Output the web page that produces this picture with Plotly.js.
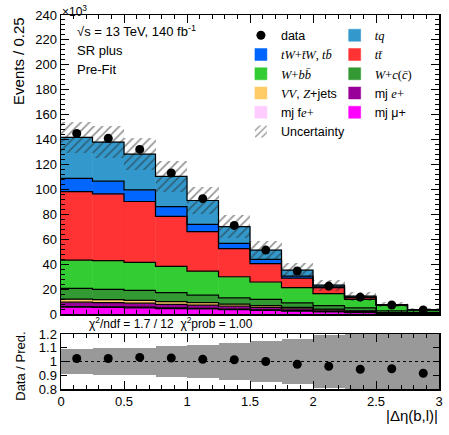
<!DOCTYPE html>
<html><head><meta charset="utf-8">
<script src="https://cdn.plot.ly/plotly-3.0.1.min.js"></script>
<style>html,body{margin:0;padding:0;background:#fff}#c{width:449px;height:435px}</style>
</head><body><div id="c"></div>
<script>
// bin centers of |Δη(b,l)| (12 bins of 0.25)
const binCenters = [0.125,0.375,0.625,0.875,1.125,1.375,1.625,1.875,2.125,2.375,2.625,2.875];
const binEdges   = [0,0.25,0.5,0.75,1.0,1.25,1.5,1.75,2.0,2.25,2.5,2.75,3.0];
// events in units of 10^3 (stacking order bottom -> top)
const mjMu  = [5.5,5.3,5.0,4.4,4.1,3.6,3.0,2.3,1.7,1.1,0.6,0.3];
const mjFe  = [0.5,0.5,0.5,0.5,0.5,0.4,0.4,0.4,0.3,0.2,0.1,0.05];
const mjE   = [3.5,3.4,3.2,2.9,2.6,2.3,2.0,1.5,1.1,0.8,0.4,0.2];
const vvZ   = [2.4,2.3,2.2,2.2,2.0,1.7,1.4,1.1,0.8,0.5,0.3,0.15];
const wc    = [8.6,8.2,8.0,7.1,5.9,5.0,4.9,3.7,2.9,2.4,1.2,0.6];
const wbb   = [22.8,23.1,22.5,21.1,19.3,16.9,14.0,12.1,9.5,6.7,4.4,2.0];
const ttbar = [55.0,53.6,48.9,40.2,31.7,22.6,14.7,7.7,4.8,1.5,0.4,0.1];
const tw    = [10.5,10.2,9.3,7.8,5.9,4.2,3.4,1.6,0.8,0.4,0.1,0.05];
const tq    = [33.0,31.4,28.7,24.2,19.1,13.5,7.5,4.8,1.3,0.7,0.1,0.05];
const dataVals = [144.9,141.0,132.1,113.2,92.6,71.1,51.3,34.5,22.4,13.5,7.2,3.2];
// relative total uncertainty of the prediction
const relUnc = [0.088,0.095,0.10,0.11,0.12,0.135,0.15,0.165,0.19,0.26,0.30,0.35];

const S = '<span style="font-family:Liberation Serif">';
const comps = [
  {y: mjMu,  name: 'mj \u03bc+', color: '#ff00ff', leg: 'legend2', rank: 10},
  {y: mjFe,  name: 'mj f'+S+'<i>e</i>+</span>', color: '#ffccff', leg: 'legend', rank: 9},
  {y: mjE,   name: 'mj '+S+'<i>e</i>+</span>', color: '#990099', leg: 'legend2', rank: 8},
  {y: vvZ,   name: S+'<i>VV</i></span>, '+S+'<i>Z</i></span>+jets', color: '#ffcc66', leg: 'legend', rank: 7},
  {y: wc,    name: S+'<i>W</i>+<i>c</i>(<i>c\u0304</i>)</span>', color: '#339933', leg: 'legend2', rank: 6},
  {y: wbb,   name: S+'<i>W</i>+<i>bb\u0304</i></span>', color: '#33cc33', leg: 'legend', rank: 5},
  {y: ttbar, name: S+'<i>tt\u0304</i></span>', color: '#ff3333', leg: 'legend2', rank: 4},
  {y: tw,    name: S+'<i>tW</i>+<i>t\u0304W</i>, <i>tb\u0304</i></span>', color: '#0066ff', leg: 'legend', rank: 3},
  {y: tq,    name: S+'<i>tq</i></span>', color: '#3399cc', leg: 'legend2', rank: 2}
];

const traces = [];
let base = binCenters.map(() => 0);
const levels = [];
comps.forEach(c => {
  traces.push({type:'bar', x: binCenters, y: c.y, base: base.slice(), width: 0.25,
    marker:{color:c.color, line:{color:c.color, width:0.5}}, name:c.name,
    legend:c.leg, legendrank:c.rank, xaxis:'x', yaxis:'y', hoverinfo:'skip'});
  base = base.map((b,i) => b + c.y[i]);
  levels.push(base.slice());
});
const total = base;
// outline steps
levels.forEach(lv => {
  traces.push({type:'scatter', mode:'lines', x: binEdges, y: lv.concat([lv[lv.length-1]]),
    line:{shape:'hv', color:'#000', width:1.2}, showlegend:false, xaxis:'x', yaxis:'y', hoverinfo:'skip'});
});
// hatched uncertainty
traces.push({type:'bar', x: binCenters, y: total.map((t,i)=>2*t*relUnc[i]),
  base: total.map((t,i)=>t*(1-relUnc[i])), width:0.25, name:'Uncertainty',
  marker:{color:'rgba(0,0,0,0)', line:{width:0},
    pattern:{shape:'/', fgcolor:'#2a2a2a', size:6, solidity:0.28, fillmode:'overlay'}},
  legend:'legend', legendrank:11, xaxis:'x', yaxis:'y', hoverinfo:'skip'});
// data
traces.push({type:'scatter', mode:'markers', x: binCenters, y: dataVals, name:'data',
  marker:{color:'#000', size:9}, legend:'legend', legendrank:1, xaxis:'x', yaxis:'y'});
// ratio band
traces.push({type:'bar', x: binCenters, y: relUnc.map(u=>2*u), base: relUnc.map(u=>1-u), width:0.25,
  marker:{color:'#999999', line:{width:0}}, showlegend:false, xaxis:'x2', yaxis:'y2', hoverinfo:'skip'});
// ratio points
traces.push({type:'scatter', mode:'markers', x: binCenters, y: dataVals.map((d,i)=>d/total[i]),
  marker:{color:'#000', size:9}, showlegend:false, xaxis:'x2', yaxis:'y2'});

const axCommon = {showline:true, linecolor:'#000', linewidth:1.5, mirror:'allticks', ticks:'inside',
  ticklen:8, tickwidth:1, tickcolor:'#000', showgrid:false, zeroline:false,
  tickfont:{size:13, color:'#000', family:'Liberation Sans, Arial'}};
const F = 'Liberation Sans, Arial, sans-serif';
const layout = {
  width:449, height:435, margin:{l:61, r:10, t:15, b:46},
  paper_bgcolor:'#fff', plot_bgcolor:'#fff', barmode:'overlay', bargap:0,
  font:{family:F, size:13, color:'#000'},
  xaxis: Object.assign({}, axCommon, {domain:[0,1], anchor:'y', range:[0,3], dtick:0.5, tick0:0,
    showticklabels:false, matches:'x2', minor:{ticks:'inside', ticklen:4, dtick:0.1, tickcolor:'#000'}}),
  yaxis: Object.assign({}, axCommon, {domain:[0.2005,1], anchor:'x', range:[0,240], dtick:20, tick0:0,
    minor:{ticks:'inside', ticklen:4, dtick:4, tickcolor:'#000'}}),
  xaxis2: Object.assign({}, axCommon, {domain:[0,1], anchor:'y2', range:[0,3], dtick:0.5, tick0:0,
    minor:{ticks:'inside', ticklen:4, dtick:0.1, tickcolor:'#000'}}),
  yaxis2: Object.assign({}, axCommon, {domain:[0,0.147], anchor:'x2', range:[0.8,1.2],
    tickvals:[0.8,0.9,1,1.1,1.2], ticktext:['0.8','0.9','1','1.1','1.2'], ticklen:6}),
  legend:{x:0.476, y:0.985, xanchor:'left', yanchor:'top', bgcolor:'rgba(0,0,0,0)',
    font:{size:12.5, family:F}, tracegroupgap:0, itemwidth:30},
  legend2:{x:0.724, y:0.985, xanchor:'left', yanchor:'top', bgcolor:'rgba(0,0,0,0)',
    font:{size:12.5, family:F}, tracegroupgap:0, itemwidth:30},
  shapes:[{type:'line', xref:'x2', yref:'y2', x0:0, x1:3, y0:1, y1:1, line:{color:'#000', width:1.2, dash:'dot'}}],
  annotations:[
    {text:'\u00d710<sup>3</sup>', xref:'paper', yref:'paper', x:-0.003, y:1.012, xanchor:'left', yanchor:'middle', showarrow:false, font:{size:12}},
    {text:'\u221as = 13 TeV, 140 fb<sup>-1</sup>', xref:'paper', yref:'paper', x:0.037, y:0.958, xanchor:'left', yanchor:'middle', showarrow:false, font:{size:13}},
    {text:'SR plus', xref:'paper', yref:'paper', x:0.037, y:0.904, xanchor:'left', yanchor:'middle', showarrow:false, font:{size:13}},
    {text:'Pre-Fit', xref:'paper', yref:'paper', x:0.037, y:0.853, xanchor:'left', yanchor:'middle', showarrow:false, font:{size:13}},
    {text:'\u03c7<sup>2</sup>/ndf = 1.7 / 12  \u03c7<sup>2</sup>prob = 1.00', xref:'paper', yref:'paper', x:0.069, y:0.177, xanchor:'left', yanchor:'middle', showarrow:false, font:{size:12}},
    {text:'Events / 0.25', xref:'paper', yref:'paper', x:-0.114, y:1.0, xanchor:'center', yanchor:'top', textangle:-90, showarrow:false, font:{size:15}},
    {text:'Data / Pred.', xref:'paper', yref:'paper', x:-0.106, y:0.062, xanchor:'center', yanchor:'middle', textangle:-90, showarrow:false, font:{size:13}},
    {text:'|\u0394\u03b7(b,l)|', xref:'paper', yref:'paper', x:1.002, y:-0.07, xanchor:'right', yanchor:'middle', showarrow:false, font:{size:15}}
  ]
};
Plotly.newPlot('c', traces, layout, {displayModeBar:false, staticPlot:true});
</script></body></html>
